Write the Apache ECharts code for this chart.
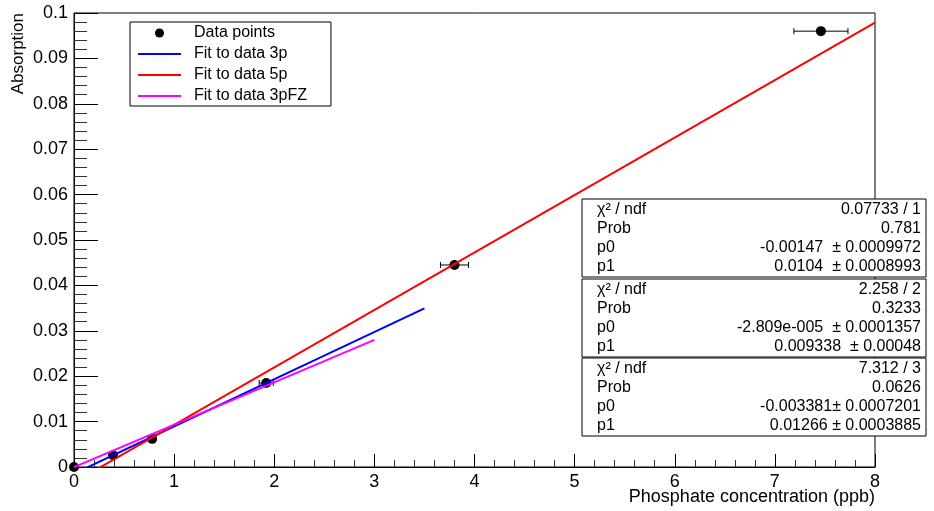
<!DOCTYPE html>
<html>
<head>
<meta charset="utf-8">
<script src="https://cdn.jsdelivr.net/npm/echarts@6/dist/echarts.min.js"></script>
<style>
  html, body { margin: 0; padding: 0; background: #fff; }
  #chart { width: 934px; height: 511px; }
</style>
</head>
<body>
<div id="chart"></div>
<script>
// Measured calibration points: concentration (ppb) vs absorption
const concentration = [0, 0.39, 0.78, 1.92, 3.80, 7.46];
const absorption    = [0, 0.0026, 0.0062, 0.0185, 0.0445, 0.096];
const concError     = [0, 0.015, 0.03, 0.07, 0.14, 0.27];

// Linear fits y = p0 + p1 * x, with their fit ranges
const fitNames  = ['Fit to data 3p', 'Fit to data 5p', 'Fit to data 3pFZ'];
const fitColors = ['#0000ff', '#ff0000', '#ff00ff'];
const fitP0     = [-0.00147, -0.003381, -2.809e-5];
const fitP1     = [0.0104, 0.01266, 0.009338];
const fitRange  = [[0, 3.5], [0, 8], [0, 3]];

// Statistics boxes (3p, 3pFZ, 5p from top to bottom)
const statLabels = ['χ² / ndf', 'Prob', 'p0', 'p1'];
const statValues = [
  ['0.07733 / 1', '0.781', '-0.00147  ± 0.0009972', '0.0104  ± 0.0008993'],
  ['2.258 / 2', '0.3233', '-2.809e-005  ± 0.0001357', '0.009338  ± 0.00048'],
  ['7.312 / 3', '0.0626', '-0.003381± 0.0007201', '0.01266 ± 0.0003885']
];

const xTitle = 'Phosphate concentration (ppb)';
const yTitle = 'Absorption';

const FONT = '"Liberation Sans", Arial, sans-serif';
const chart = echarts.init(document.getElementById('chart'), null, { renderer: 'canvas' });

const pointData = concentration.map((x, i) => [x, absorption[i], concError[i]]);

const fitSeries = fitNames.map((name, i) => ({
  name: name,
  type: 'line',
  symbol: 'none',
  clip: true,
  z: 4,
  lineStyle: { color: fitColors[i], width: 2 },
  itemStyle: { color: fitColors[i] },
  data: fitRange[i].map(x => [x, fitP0[i] + fitP1[i] * x])
}));

// Stat boxes as graphic rectangles with left/right aligned text rows
const boxLeft = 582, boxRight = 926, boxTops = [199, 279, 358], boxH = 78;
const statGraphics = [];
boxTops.forEach((top, b) => {
  statGraphics.push({
    type: 'rect', silent: true,
    shape: { x: boxLeft, y: top, width: boxRight - boxLeft, height: boxH },
    style: { fill: '#fff', stroke: '#000', lineWidth: 1 }, z: 10
  });
  statLabels.forEach((lab, r) => {
    const cy = top + 11 + r * 19;
    statGraphics.push({
      type: 'text', silent: true, z: 11, x: 597, y: cy,
      style: { text: lab, font: '16px ' + FONT, fill: '#000', align: 'left', verticalAlign: 'middle' }
    });
    statGraphics.push({
      type: 'text', silent: true, z: 11, x: 921, y: cy,
      style: { text: statValues[b][r], font: '16px ' + FONT, fill: '#000', align: 'right', verticalAlign: 'middle' }
    });
  });
});

const lineIcon = 'path://M0,0H43V2H0Z';

const option = {
  animation: false,
  backgroundColor: '#fff',
  grid: {
    left: 74, right: 59, top: 13, bottom: 44,
    outerBoundsMode: 'none',
    containLabel: false,
    show: true, borderColor: '#000', borderWidth: 1, backgroundColor: 'transparent'
  },
  legend: {
    orient: 'vertical',
    left: 130, top: 22,
    backgroundColor: '#fff',
    borderColor: '#000', borderWidth: 1,
    padding: [3, 24, 2, 8],
    itemWidth: 43, itemHeight: 9, itemGap: 5,
    textStyle: { fontFamily: FONT, fontSize: 16, lineHeight: 14, color: '#000', padding: [0, 0, 0, 8] },
    data: [
      { name: 'Data points', icon: 'circle', itemStyle: { color: '#000' } },
      { name: fitNames[0], icon: lineIcon, itemStyle: { color: fitColors[0] } },
      { name: fitNames[1], icon: lineIcon, itemStyle: { color: fitColors[1] } },
      { name: fitNames[2], icon: lineIcon, itemStyle: { color: fitColors[2] } }
    ]
  },
  xAxis: {
    type: 'value', min: 0, max: 8, interval: 1,
    axisLine: { show: true, onZero: false, lineStyle: { color: '#000', width: 1 } },
    axisTick: { show: true, inside: true, length: 13, lineStyle: { color: '#000' } },
    minorTick: { show: true, splitNumber: 5, length: 7, lineStyle: { color: '#333' } },
    splitLine: { show: false },
    axisLabel: { fontFamily: FONT, fontSize: 18, color: '#000', margin: 6 }
  },
  yAxis: {
    type: 'value', min: 0, max: 0.1, interval: 0.01,
    axisLine: { show: true, onZero: false, lineStyle: { color: '#000', width: 1 } },
    axisTick: { show: true, inside: true, length: 24, lineStyle: { color: '#000' } },
    minorTick: { show: true, splitNumber: 5, length: 13, lineStyle: { color: '#333' } },
    splitLine: { show: false },
    axisLabel: {
      fontFamily: FONT, fontSize: 18, color: '#000', margin: 6,
      formatter: v => String(+v.toFixed(3))
    }
  },
  graphic: [
    {
      type: 'text', silent: true, x: 18, y: 13, rotation: Math.PI / 2,
      style: { text: yTitle, font: '17px ' + FONT, fill: '#000', align: 'right', verticalAlign: 'middle' }
    },
    {
      type: 'text', silent: true, x: 875, y: 497,
      style: { text: xTitle, font: '18px ' + FONT, fill: '#000', align: 'right', verticalAlign: 'middle' }
    }
  ].concat(statGraphics),
  series: [
    {
      name: 'Data points',
      type: 'custom',
      z: 3,
      clip: false,
      renderItem: (params, api) => {
        const x = api.value(0), y = api.value(1), e = api.value(2);
        const c = api.coord([x, y]);
        const l = api.coord([x - e, y]);
        const r = api.coord([x + e, y]);
        const children = [];
        if (r[0] - l[0] > 4) {
          children.push({ type: 'line', shape: { x1: l[0], y1: c[1], x2: r[0], y2: c[1] }, style: { stroke: '#000', lineWidth: 1 } });
          children.push({ type: 'line', shape: { x1: l[0], y1: c[1] - 3, x2: l[0], y2: c[1] + 3 }, style: { stroke: '#000', lineWidth: 1 } });
          children.push({ type: 'line', shape: { x1: r[0], y1: c[1] - 3, x2: r[0], y2: c[1] + 3 }, style: { stroke: '#000', lineWidth: 1 } });
        }
        children.push({ type: 'circle', shape: { cx: c[0], cy: c[1], r: 5 }, style: { fill: '#000' } });
        return { type: 'group', children: children };
      },
      itemStyle: { color: '#000' },
      encode: { x: 0, y: 1 },
      data: pointData
    }
  ].concat(fitSeries)
};

chart.setOption(option);
</script>
</body>
</html>
